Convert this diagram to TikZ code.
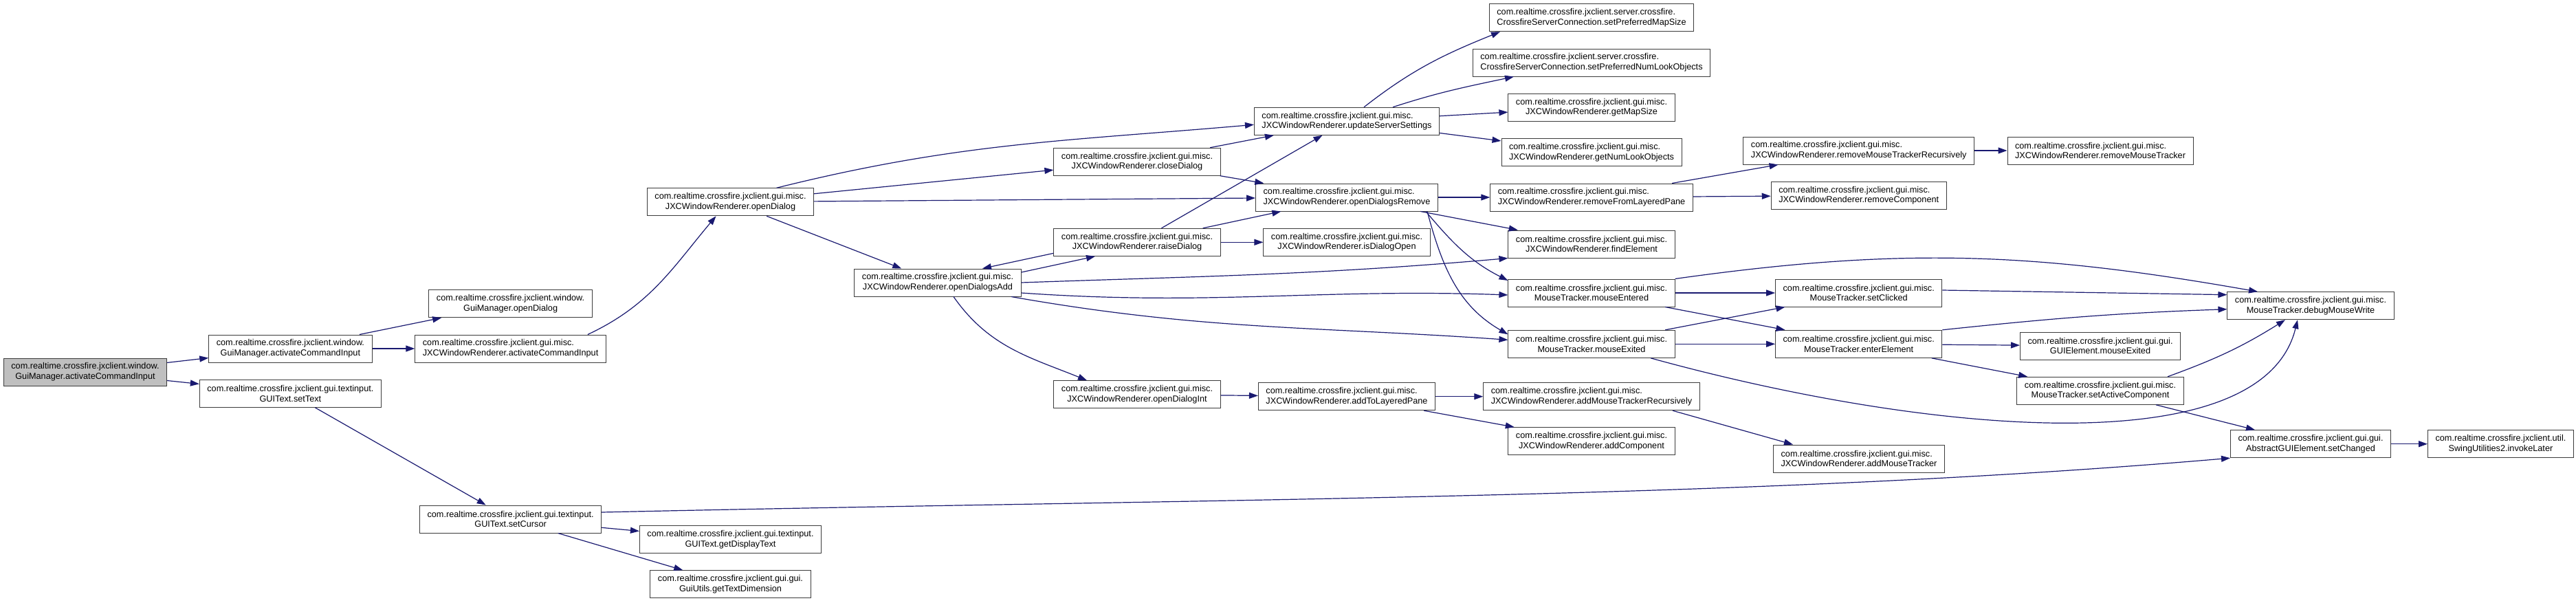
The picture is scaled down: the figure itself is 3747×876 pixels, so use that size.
\documentclass[tikz,border=0pt]{standalone}
\usepackage{xcolor}
\usepackage{fontspec}
\setmainfont{Liberation Sans}
\usepackage{tikz}
\usetikzlibrary{arrows.meta}
\definecolor{edgeblue}{RGB}{25, 25, 112}
\definecolor{rootgray}{RGB}{191, 191, 191}
\definecolor{boxline}{RGB}{60, 60, 60}

\begin{document}
\begin{tikzpicture}[x=1pt, y=1pt,
  fn/.style   = {rectangle, draw=boxline, fill=white, line width=1pt,
                 align=center, inner xsep=11pt, inner ysep=0pt, minimum height=40pt,
                 font=\fontsize{12.7}{14.7}\selectfont},
  fnl/.style  = {fn, align=left},
  cur/.style  = {fn, fill=rootgray},
  call/.style = {->, >={Triangle[length=13pt, width=9pt]}, line width=1.2pt, color=edgeblue}
]
  \useasboundingbox (0,0) rectangle (3747,-876);

  % ---- Column 0: the documented function ----
  \node[cur] at (124,-541)      (root)     {com.realtime.crossfire.jxclient.window.\\GuiManager.activateCommandInput};

  % ---- Column 1 ----
  \node[fn]  at (422.4,-507)    (gmAct)    {com.realtime.crossfire.jxclient.window.\\GuiManager.activateCommandInput};
  \node[fn]  at (422.4,-572.3)  (setText)  {com.realtime.crossfire.jxclient.gui.textinput.\\GUIText.setText};

  % ---- Column 2 ----
  \node[fn]  at (742.6,-441.7)  (gmOpen)    {com.realtime.crossfire.jxclient.window.\\GuiManager.openDialog};
  \node[fnl] at (742.6,-507)    (jxcAct)    {com.realtime.crossfire.jxclient.gui.misc.\\JXCWindowRenderer.activateCommandInput};
  \node[fn]  at (742.6,-755)    (setCursor) {com.realtime.crossfire.jxclient.gui.textinput.\\GUIText.setCursor};

  % ---- Column 3 ----
  \node[fn]  at (1062.5,-293.8) (openDialog)     {com.realtime.crossfire.jxclient.gui.misc.\\JXCWindowRenderer.openDialog};
  \node[fn]  at (1062.5,-784.7) (getDisplayText) {com.realtime.crossfire.jxclient.gui.textinput.\\GUIText.getDisplayText};
  \node[fn]  at (1062.5,-849.7) (getTextDim)     {com.realtime.crossfire.jxclient.gui.gui.\\GuiUtils.getTextDimension};

  % ---- Column 4 ----
  \node[fn]  at (1364,-411)     (openDialogsAdd) {com.realtime.crossfire.jxclient.gui.misc.\\JXCWindowRenderer.openDialogsAdd};

  % ---- Column 5 ----
  \node[fn]  at (1654,-235.2)   (closeDialog)   {com.realtime.crossfire.jxclient.gui.misc.\\JXCWindowRenderer.closeDialog};
  \node[fn]  at (1654,-352.3)   (raiseDialog)   {com.realtime.crossfire.jxclient.gui.misc.\\JXCWindowRenderer.raiseDialog};
  \node[fn]  at (1654,-573.7)   (openDialogInt) {com.realtime.crossfire.jxclient.gui.misc.\\JXCWindowRenderer.openDialogInt};

  % ---- Column 6 ----
  \node[fnl] at (1959,-176.3)   (updateSS)     {com.realtime.crossfire.jxclient.gui.misc.\\JXCWindowRenderer.updateServerSettings};
  \node[fnl] at (1959,-287)     (dlgRemove)    {com.realtime.crossfire.jxclient.gui.misc.\\JXCWindowRenderer.openDialogsRemove};
  \node[fn]  at (1959,-352.3)   (isDialogOpen) {com.realtime.crossfire.jxclient.gui.misc.\\JXCWindowRenderer.isDialogOpen};
  \node[fnl] at (1959,-576.7)   (addToLP)      {com.realtime.crossfire.jxclient.gui.misc.\\JXCWindowRenderer.addToLayeredPane};

  % ---- Column 7 ----
  \node[fnl] at (2315,-25.7)    (setPrefMap)   {com.realtime.crossfire.jxclient.server.crossfire.\\CrossfireServerConnection.setPreferredMapSize};
  \node[fnl] at (2315,-91)      (setPrefNum)   {com.realtime.crossfire.jxclient.server.crossfire.\\CrossfireServerConnection.setPreferredNumLookObjects};
  \node[fn]  at (2315,-156.3)   (getMapSize)   {com.realtime.crossfire.jxclient.gui.misc.\\JXCWindowRenderer.getMapSize};
  \node[fnl] at (2315,-221.7)   (getNumLook)   {com.realtime.crossfire.jxclient.gui.misc.\\JXCWindowRenderer.getNumLookObjects};
  \node[fnl] at (2315,-287)     (removeFromLP) {com.realtime.crossfire.jxclient.gui.misc.\\JXCWindowRenderer.removeFromLayeredPane};
  \node[fn]  at (2315,-355)     (findElement)  {com.realtime.crossfire.jxclient.gui.misc.\\JXCWindowRenderer.findElement};
  \node[fn]  at (2315,-426)     (mouseEntered) {com.realtime.crossfire.jxclient.gui.misc.\\MouseTracker.mouseEntered};
  \node[fn]  at (2315,-500.3)   (mouseExited)  {com.realtime.crossfire.jxclient.gui.misc.\\MouseTracker.mouseExited};
  \node[fnl] at (2315,-576.7)   (addMTRec)     {com.realtime.crossfire.jxclient.gui.misc.\\JXCWindowRenderer.addMouseTrackerRecursively};
  \node[fn]  at (2315,-641.7)   (addComponent) {com.realtime.crossfire.jxclient.gui.misc.\\JXCWindowRenderer.addComponent};

  % ---- Column 8 ----
  \node[fnl] at (2703.7,-219)   (removeMTRec)     {com.realtime.crossfire.jxclient.gui.misc.\\JXCWindowRenderer.removeMouseTrackerRecursively};
  \node[fnl] at (2703.7,-284.3) (removeComponent) {com.realtime.crossfire.jxclient.gui.misc.\\JXCWindowRenderer.removeComponent};
  \node[fn]  at (2703.7,-426)   (setClicked)      {com.realtime.crossfire.jxclient.gui.misc.\\MouseTracker.setClicked};
  \node[fn]  at (2703.7,-500.3) (enterElement)    {com.realtime.crossfire.jxclient.gui.misc.\\MouseTracker.enterElement};
  \node[fnl] at (2704,-667)     (addMouseTracker) {com.realtime.crossfire.jxclient.gui.misc.\\JXCWindowRenderer.addMouseTracker};

  % ---- Column 9 ----
  \node[fnl] at (3055,-219)     (removeMouseTracker) {com.realtime.crossfire.jxclient.gui.misc.\\JXCWindowRenderer.removeMouseTracker};
  \node[fn]  at (3055,-503)     (guiMouseExited)     {com.realtime.crossfire.jxclient.gui.gui.\\GUIElement.mouseExited};
  \node[fn]  at (3055,-568.3)   (setActiveComp)      {com.realtime.crossfire.jxclient.gui.misc.\\MouseTracker.setActiveComponent};

  % ---- Column 10 / 11 ----
  \node[fn]  at (3361,-444.7)   (debugMouseWrite) {com.realtime.crossfire.jxclient.gui.misc.\\MouseTracker.debugMouseWrite};
  \node[fn]  at (3361,-645.7)   (setChanged)      {com.realtime.crossfire.jxclient.gui.gui.\\AbstractGUIElement.setChanged};
  \node[fn]  at (3637.4,-645.7) (invokeLater)     {com.realtime.crossfire.jxclient.util.\\SwingUtilities2.invokeLater};

  % ---- Calls: window / text input ----
  \draw[call] (root)      -- (gmAct);
  \draw[call] (root)      -- (setText);
  \draw[call] (gmAct)     -- (gmOpen);
  \draw[call] (gmAct)     -- (jxcAct);
  \draw[call] ([xshift=-27pt]jxcAct.north east) to[out=25,in=230] ([xshift=-21pt]openDialog.south);
  \draw[call] (setText)   -- (setCursor);
  \draw[call] (setCursor) -- (getDisplayText);
  \draw[call] (setCursor) -- (getTextDim);
  \draw[call] ([yshift=10pt]setCursor.east) .. controls +(900,20) and +(-700,-60) .. (setChanged.south west);

  % ---- Calls: openDialog ----
  \draw[call] ([xshift=67pt]openDialog.north) to[out=14,in=185] ([yshift=-5pt]updateSS.west);
  \draw[call] (openDialog)  -- (closeDialog);
  \draw[call] (openDialog)  -- (dlgRemove);
  \draw[call] (openDialog)  -- (openDialogsAdd);
  \draw[call] (closeDialog) -- (updateSS);
  \draw[call] (closeDialog) -- (dlgRemove);
  \draw[call] (raiseDialog) -- (updateSS);
  \draw[call] (raiseDialog) -- (dlgRemove);
  \draw[call] (raiseDialog) -- (isDialogOpen);
  \draw[call] ([yshift=-16pt]raiseDialog.west) -- ([xshift=65pt]openDialogsAdd.north);
  \draw[call] ([yshift=15pt]openDialogsAdd.east) -- ([xshift=-61pt]raiseDialog.south);

  % ---- Calls: openDialogsAdd ----
  \draw[call] (openDialogsAdd.east) to[out=2,in=185] (findElement.south west);
  \draw[call] ([yshift=-15pt]openDialogsAdd.east) to[out=-4,in=178] ([yshift=-3pt]mouseEntered.west);
  \draw[call] ([xshift=107pt]openDialogsAdd.south) to[out=-10,in=176] ([yshift=6pt]mouseExited.west);
  \draw[call] ([xshift=23pt]openDialogsAdd.south) to[out=-55,in=158] ([xshift=-73pt]openDialogInt.north);
  \draw[call] (openDialogInt) -- (addToLP);
  \draw[call] (addToLP)       -- (addMTRec);
  \draw[call] (addToLP)       -- (addComponent);
  \draw[call] ([xshift=118pt]addMTRec.south) -- ([xshift=-96pt]addMouseTracker.north);

  % ---- Calls: openDialogsRemove ----
  \draw[call] (dlgRemove) -- (removeFromLP);
  \draw[call] (dlgRemove) -- (findElement);
  \draw[call] ([xshift=115pt]dlgRemove.south) to[out=-50,in=153] ([yshift=18pt]mouseEntered.west);
  \draw[call] ([xshift=117pt]dlgRemove.south) to[out=-75,in=150] ([yshift=14pt]mouseExited.west);
  \draw[call] (removeFromLP) -- (removeMTRec);
  \draw[call] (removeFromLP) -- (removeComponent);
  \draw[call] (removeMTRec)  -- (removeMouseTracker);

  % ---- Calls: updateServerSettings ----
  \draw[call] ([xshift=25pt]updateSS.north) to[out=38,in=202] ([xshift=-133pt]setPrefMap.south);
  \draw[call] ([xshift=67pt]updateSS.north) to[out=18,in=192] ([xshift=-113pt]setPrefNum.south);
  \draw[call] (updateSS) -- (getMapSize);
  \draw[call] (updateSS) -- (getNumLook);

  % ---- Calls: MouseTracker ----
  \draw[call] (mouseEntered) -- (setClicked);
  \draw[call] (mouseEntered) -- (enterElement);
  \draw[call] (mouseEntered.north east) to[out=8,in=170] ([xshift=-77pt]debugMouseWrite.north);
  \draw[call] (mouseExited)  -- (setClicked);
  \draw[call] (mouseExited)  -- (enterElement);
  \draw[call] ([xshift=86pt]mouseExited.south) .. controls +(399,-110) and +(-52,-212) .. ([xshift=-19pt]debugMouseWrite.south);
  \draw[call] ([yshift=4pt]setClicked.east) -- ([yshift=16pt]debugMouseWrite.west);
  \draw[call] (enterElement.north east) to[out=6,in=182] ([yshift=-5pt]debugMouseWrite.west);
  \draw[call] (enterElement) -- (guiMouseExited);
  \draw[call] (enterElement) -- (setActiveComp);
  \draw[call] ([xshift=98pt]setActiveComp.north) to[out=20,in=212] ([xshift=-37pt]debugMouseWrite.south);
  \draw[call] (setActiveComp) -- (setChanged);
  \draw[call] (setChanged)    -- (invokeLater);
\end{tikzpicture}
\end{document}
